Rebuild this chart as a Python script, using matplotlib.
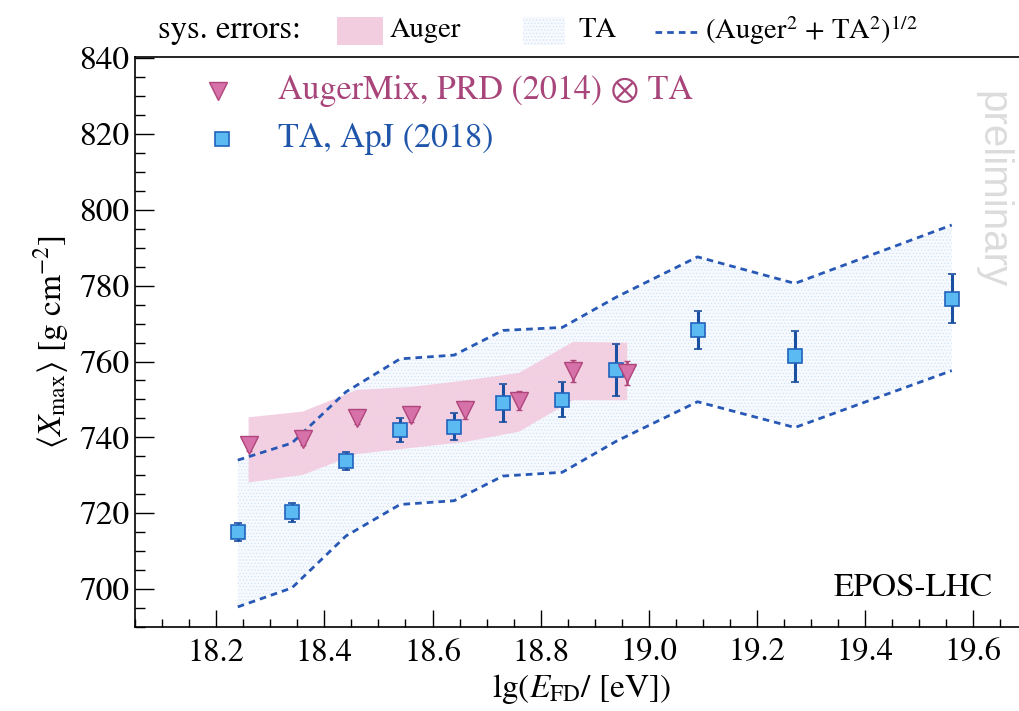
import matplotlib
matplotlib.use("Agg")
import matplotlib.pyplot as plt
from matplotlib.patches import Rectangle
from matplotlib.lines import Line2D
from matplotlib.ticker import MultipleLocator

plt.rcParams['font.family'] = ['STIXGeneral', 'DejaVu Serif']
plt.rcParams['mathtext.fontset'] = 'stix'
plt.rcParams['hatch.linewidth'] = 0.5

# TA, ApJ (2018): <Xmax> with statistical errors
ta_lgE = [18.24, 18.34, 18.44, 18.54, 18.64, 18.73, 18.84, 18.94, 19.09, 19.27, 19.56]
ta_xmax = [715.0, 720.2, 733.8, 741.9, 742.8, 749.1, 749.9, 757.8, 768.4, 761.4, 776.6]
ta_stat = [2.4, 2.4, 2.4, 3.2, 3.5, 5.0, 4.6, 6.9, 5.0, 6.7, 6.5]

# TA systematic band and combined (Auger^2 + TA^2)^1/2 band
ta_sys_hi = [733.8, 738.3, 751.8, 760.5, 761.5, 768.0, 768.8, 776.8, 787.4, 780.4, 795.8]
ta_sys_lo = [695.5, 700.5, 714.2, 722.5, 723.5, 730.0, 731.0, 739.2, 749.6, 742.8, 757.8]
comb_hi = [734.0, 738.5, 752.0, 760.7, 761.7, 768.2, 769.0, 777.0, 787.6, 780.6, 796.0]
comb_lo = [695.3, 700.3, 714.0, 722.3, 723.3, 729.8, 730.8, 739.0, 749.4, 742.6, 757.6]

# AugerMix, PRD (2014) folded with TA acceptance
auger_lgE = [18.26, 18.36, 18.46, 18.56, 18.66, 18.76, 18.86, 18.96]
auger_xmax = [738.0, 739.5, 745.2, 746.0, 747.2, 749.6, 757.5, 757.0]
auger_stat = [1.5, 1.5, 1.8, 2.0, 2.4, 2.5, 2.9, 3.2]
auger_sys_hi = [745.3, 746.8, 752.5, 753.3, 755.0, 757.0, 765.2, 765.0]
auger_sys_lo = [728.1, 730.1, 735.6, 737.2, 738.8, 741.5, 749.8, 749.8]

x_ticks = [18.2, 18.4, 18.6, 18.8, 19.0, 19.2, 19.4, 19.6]
y_ticks = [700, 720, 740, 760, 780, 800, 820, 840]

PINK_BAND = '#f2cde0'
TRI_FACE = '#d672a9'
TRI_EDGE = '#b0457c'
AUGER_TXT = '#a8457a'
SQ_FACE = '#5cbaf3'
SQ_EDGE = '#2163bd'
ERR_BLUE = '#1b4f9f'
TA_TXT = '#1f56aa'
DASH_BLUE = '#2858b5'
TA_FACE = '#f6fafe'
TA_HATCH = '#d3e3f6'

W, H = 1020, 711
fig = plt.figure(figsize=(W / 100, H / 100), dpi=100)
ax = fig.add_axes([135 / W, 84 / H, 892.5 / W, 570 / H])
ax.set_xlim(18.05, 19.70)
ax.set_ylim(690, 840.3)

# systematic bands
ax.fill_between(ta_lgE, ta_sys_lo, ta_sys_hi, facecolor=TA_FACE,
                edgecolor=TA_HATCH, hatch='.....', linewidth=0, zorder=1)
ax.fill_between(auger_lgE, auger_sys_lo, auger_sys_hi, facecolor=PINK_BAND,
                edgecolor='none', alpha=0.93, zorder=2)
dash_kw = dict(color=DASH_BLUE, lw=2.0, dashes=(2.4, 1.8), zorder=3)
ax.plot(ta_lgE, comb_hi, **dash_kw)
ax.plot(ta_lgE, comb_lo, **dash_kw)

# data points
ax.errorbar(ta_lgE, ta_xmax, yerr=ta_stat, fmt='s', ms=10.5, mfc=SQ_FACE,
            mec=SQ_EDGE, mew=1.2, ecolor=ERR_BLUE, elinewidth=2.2,
            capsize=2.6, capthick=2.4, zorder=5)
ax.errorbar(auger_lgE, auger_xmax, yerr=auger_stat, fmt='v', ms=13.5, mfc=TRI_FACE,
            mec=TRI_EDGE, mew=1.0, ecolor=TRI_EDGE, elinewidth=1.8,
            capsize=2.5, capthick=2.0, zorder=6)

# axes styling
ax.xaxis.set_major_locator(MultipleLocator(0.2))
ax.xaxis.set_minor_locator(MultipleLocator(0.05))
ax.yaxis.set_major_locator(MultipleLocator(20))
ax.yaxis.set_minor_locator(MultipleLocator(5))
ax.set_xticks(x_ticks)
ax.set_xticklabels([f'{v:.1f}' for v in x_ticks])
ax.set_yticks(y_ticks)
ax.set_yticklabels([str(v) for v in y_ticks])
ax.tick_params(axis='x', which='major', direction='in', length=12.2, width=1.0,
               labelsize=23.5, pad=8, top=False)
ax.tick_params(axis='x', which='minor', direction='in', length=5.8, width=1.0, top=False)
ax.tick_params(axis='y', which='major', direction='in', length=14, width=1.0,
               labelsize=24, pad=4, right=False)
ax.tick_params(axis='y', which='minor', direction='in', length=7.5, width=1.0, right=False)
for sp in ax.spines.values():
    sp.set_linewidth(1.2)

ax.set_xlabel(r'lg($E_{\mathrm{FD}}$/ [eV])', fontsize=24, labelpad=3)
ax.set_ylabel(r'$\langle X_{\mathrm{max}}\rangle$ [g cm$^{-2}$]', fontsize=24, labelpad=6)

# in-plot legend
ax.plot([0.093], [0.940], 'v', ms=13.5, mfc=TRI_FACE, mec=TRI_EDGE, mew=1.0,
        transform=ax.transAxes, clip_on=False, zorder=7)
ax.text(0.160, 0.940, 'AugerMix, PRD (2014) \u2297 TA', color=AUGER_TXT,
        fontsize=24.5, va='center', ha='left', transform=ax.transAxes)
ax.plot([0.0975], [0.856], 's', ms=10.5, mfc=SQ_FACE, mec=SQ_EDGE, mew=1.2,
        transform=ax.transAxes, clip_on=False, zorder=7)
ax.text(0.160, 0.856, 'TA, ApJ (2018)', color=TA_TXT,
        fontsize=24.5, va='center', ha='left', transform=ax.transAxes)

ax.text(0.961, 0.768, 'preliminary', rotation=-90, color='#dcdcdc',
        family='Liberation Sans', fontsize=29, ha='center', va='center',
        transform=ax.transAxes)
ax.text(0.961, 0.068, 'EPOS-LHC', color='black', fontsize=24,
        ha='right', va='center', transform=ax.transAxes)

# systematic-error legend above the frame
fig.text(158 / W, 1 - 30 / H, 'sys. errors:', fontsize=23.5, va='center', ha='left')
fig.patches.append(Rectangle((337 / W, 1 - 45 / H), 46 / W, 28 / H,
                             transform=fig.transFigure, facecolor=PINK_BAND,
                             edgecolor='none'))
fig.text(390 / W, 1 - 30 / H, 'Auger', fontsize=20.5, va='center', ha='left')
fig.patches.append(Rectangle((523 / W, 1 - 45 / H), 42 / W, 28 / H,
                             transform=fig.transFigure, facecolor=TA_FACE,
                             edgecolor=TA_HATCH, hatch='.....', linewidth=0))
fig.text(578 / W, 1 - 30 / H, 'TA', fontsize=20.5, va='center', ha='left')
fig.lines.append(Line2D([655 / W, 697 / W], [1 - 32 / H, 1 - 32 / H],
                        transform=fig.transFigure, color=DASH_BLUE, lw=2.0,
                        dashes=(2.4, 1.8)))
fig.text(705 / W, 1 - 30 / H, r'(Auger$^{2}$ + TA$^{2}$)$^{1/2}$', fontsize=20.5,
         va='center', ha='left')

fig.savefig('out.png', dpi=100)
